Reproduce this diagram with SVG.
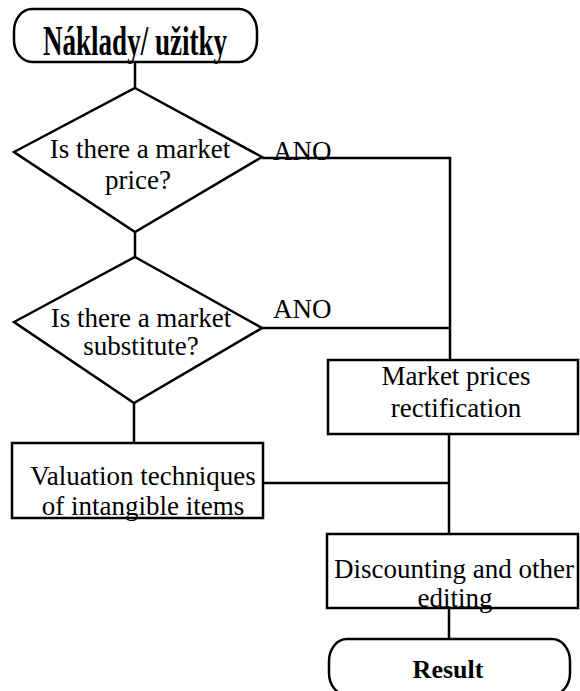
<svg xmlns="http://www.w3.org/2000/svg" width="580" height="691" viewBox="0 0 580 691">
<style>
.s{fill:#fff;stroke:#000;stroke-width:2.5}
.c{fill:none;stroke:#000;stroke-width:2.5}
.t{font-family:"Liberation Serif","Times New Roman",serif;font-size:27px;fill:#000}
.m{text-anchor:middle}
.b{font-weight:bold}
</style>
<rect width="580" height="691" fill="#fff"/>
<g id="connectors">
<path class="c" d="M135 62V88"/>
<path class="c" d="M135 232V257"/>
<path class="c" d="M262 158H450V360"/>
<path class="c" d="M262 328H450"/>
<path class="c" d="M134 403V443"/>
<path class="c" d="M449 434V534"/>
<path class="c" d="M264 483H449"/>
<path class="c" d="M449 608V639"/>
</g>
<g id="start">
<rect class="s" x="14" y="9" width="243" height="53" rx="18" ry="22"/>
<text class="t b" x="43" y="55" style="font-size:42px" textLength="184" lengthAdjust="spacingAndGlyphs">Náklady/ užitky</text>
</g>
<g id="decision1">
<polygon class="s" points="135,88 262,157 135,232 14,152"/>
<text class="t m" x="140" y="158">Is there a market</text>
<text class="t m" x="138" y="189">price?</text>
</g>
<text id="ano1" class="t" x="273" y="160">ANO</text>
<g id="decision2">
<polygon class="s" points="135,257 262,328 134,403 14,322"/>
<text class="t m" x="141" y="327">Is there a market</text>
<text class="t m" x="141" y="355">substitute?</text>
</g>
<text id="ano2" class="t" x="273" y="318">ANO</text>
<g id="market">
<rect class="s" x="328" y="360" width="250" height="74"/>
<text class="t m" x="456" y="385">Market prices</text>
<text class="t m" x="456" y="417">rectification</text>
</g>
<g id="valuation">
<rect class="s" x="12" y="443" width="251" height="75"/>
<text class="t m" x="143" y="485">Valuation techniques</text>
<text class="t m" x="143" y="515">of intangible items</text>
</g>
<g id="discounting">
<rect class="s" x="327" y="534" width="251" height="74"/>
<text class="t m" x="454" y="578">Discounting and other</text>
<text class="t m" x="455" y="607">editing</text>
</g>
<g id="result">
<rect class="s" x="329" y="639" width="241" height="56" rx="18" ry="22"/>
<text class="t m b" x="448" y="678" style="font-size:26px">Result</text>
</g>
</svg>
